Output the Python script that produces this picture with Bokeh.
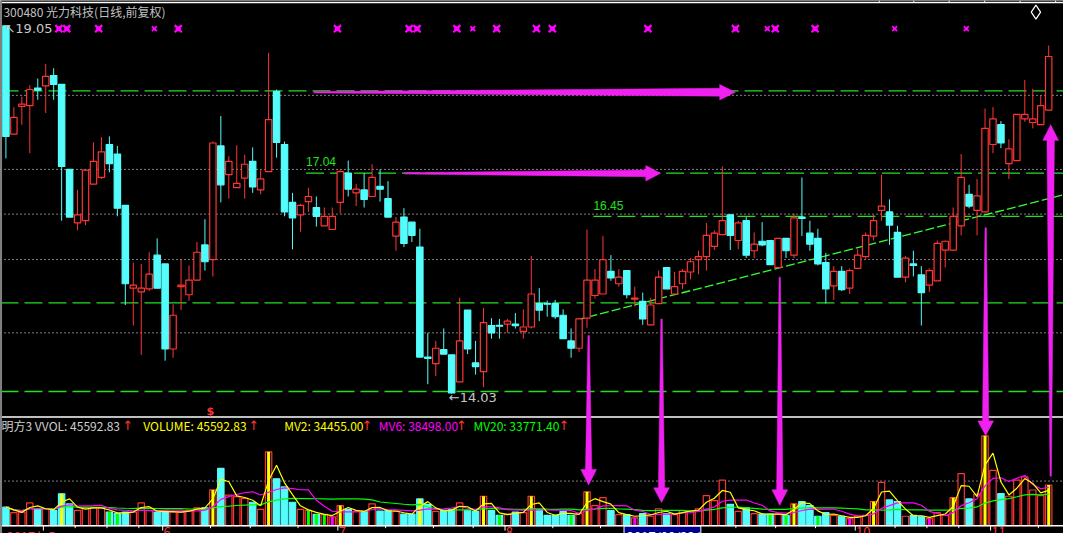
import pandas as pd
from bokeh.plotting import figure
from bokeh.models import ColumnDataSource, Range1d, Label
from bokeh.core.properties import value
from bokeh.embed import file_html
from bokeh.resources import INLINE

# ---------------- data ----------------
open_ = [19.05, 17.57, 17.95, 17.96, 18.20, 18.23, 18.37, 18.25, 17.09, 16.36,
         16.39, 16.89, 16.98, 17.43, 17.30, 16.60, 15.47, 15.42, 15.46, 15.92,
         15.80, 14.64, 15.49, 15.38, 15.58, 16.06, 15.86, 17.41, 17.02, 16.84,
         16.97, 17.20, 16.81, 17.06, 18.15, 17.43, 16.64, 16.47, 16.65, 16.57,
         16.32, 16.27, 16.64, 17.04, 16.77, 16.81, 16.72, 16.86, 16.69, 16.18,
         16.44, 16.37, 16.03, 14.53, 14.44, 14.63, 14.56, 14.19, 15.17, 14.45,
         14.33, 14.96, 14.96, 14.98, 14.98, 14.88, 14.94, 15.26, 15.26, 15.26,
         15.10, 14.75, 14.65, 15.06, 15.37, 15.39, 15.70, 15.53, 15.71, 15.32,
         15.29, 14.97, 15.26, 15.75, 15.39, 15.53, 15.69, 15.86, 15.90, 16.04,
         16.20, 16.47, 16.12, 16.39, 15.98, 16.11, 16.12, 15.75, 16.15, 15.92,
         16.44, 16.22, 16.15, 15.82, 15.50, 15.70, 15.47, 15.74, 15.90, 16.18,
         16.53, 16.51, 16.23, 15.62, 15.80, 15.65, 15.51, 15.57, 15.99, 15.99,
         16.32, 16.75, 16.53, 16.51, 17.43, 17.70, 17.17, 17.21, 17.78, 17.73,
         17.70, 17.90]
high_ = [19.05, 17.94, 18.08, 18.24, 18.33, 18.53, 18.47, 18.25, 17.09, 16.81,
         17.08, 17.46, 17.53, 17.54, 17.41, 16.60, 15.82, 15.80, 15.96, 16.15,
         15.80, 15.25, 15.86, 15.78, 16.10, 16.41, 17.47, 17.82, 17.27, 17.42,
         17.29, 17.39, 17.08, 18.68, 18.18, 17.47, 16.77, 16.62, 16.84, 16.72,
         16.57, 16.57, 17.08, 17.21, 16.89, 17.04, 17.16, 17.09, 16.93, 16.44,
         16.56, 16.37, 16.28, 14.86, 14.75, 14.92, 14.56, 15.34, 15.17, 14.75,
         15.20, 15.06, 15.05, 15.05, 15.13, 15.18, 15.91, 15.47, 15.30, 15.31,
         15.18, 14.92, 15.05, 16.27, 15.73, 16.18, 15.92, 15.73, 15.71, 15.49,
         15.41, 15.34, 15.71, 15.75, 15.69, 15.73, 15.88, 15.98, 16.36, 16.26,
         17.13, 16.48, 16.39, 16.44, 16.23, 16.37, 16.12, 16.15, 16.15, 16.49,
         16.98, 16.39, 16.28, 15.95, 15.77, 15.77, 15.74, 16.00, 16.23, 16.47,
         17.02, 16.68, 16.32, 15.91, 15.98, 15.77, 15.74, 16.12, 16.12, 16.57,
         17.30, 16.88, 16.96, 17.92, 17.94, 17.75, 17.50, 17.84, 18.31, 18.19,
         18.10, 18.78]
low_ = [17.24, 17.57, 17.70, 17.31, 18.04, 17.86, 18.04, 16.39, 16.44, 16.26,
        16.33, 16.89, 16.96, 17.05, 16.45, 15.24, 14.96, 14.56, 15.43, 15.47,
        14.48, 14.52, 15.17, 15.30, 15.58, 15.71, 15.63, 16.64, 16.69, 16.84,
        16.69, 16.77, 16.75, 17.06, 17.25, 16.45, 16.00, 16.24, 16.51, 16.31,
        16.32, 16.27, 16.49, 16.72, 16.59, 16.57, 16.72, 16.65, 16.44, 15.98,
        16.03, 16.10, 14.53, 14.16, 14.27, 14.57, 14.03, 14.19, 14.57, 14.29,
        14.12, 14.78, 14.78, 14.86, 14.92, 14.78, 14.92, 15.02, 15.08, 15.05,
        14.78, 14.52, 14.60, 14.93, 15.33, 15.39, 15.57, 15.49, 15.33, 15.22,
        14.97, 14.97, 15.26, 15.46, 15.39, 15.46, 15.59, 15.66, 15.71, 15.99,
        16.20, 15.99, 16.00, 15.88, 15.88, 16.04, 15.79, 15.75, 15.88, 15.88,
        16.18, 15.98, 15.78, 15.26, 15.31, 15.43, 15.39, 15.74, 15.87, 16.12,
        16.39, 16.06, 15.62, 15.55, 15.63, 14.96, 15.42, 15.57, 15.75, 15.99,
        16.19, 16.56, 16.19, 16.51, 17.31, 17.38, 16.96, 17.21, 17.74, 17.65,
        17.70, 17.90]
close_ = [17.54, 17.80, 17.98, 18.18, 18.17, 18.36, 18.25, 17.13, 16.44, 16.47,
          17.08, 17.20, 17.33, 17.17, 16.56, 15.53, 15.51, 15.47, 15.66, 15.47,
          14.64, 15.10, 15.51, 15.58, 15.96, 15.83, 17.45, 16.88, 17.20, 16.90,
          17.16, 16.85, 16.96, 17.77, 17.46, 16.51, 16.43, 16.60, 16.72, 16.45,
          16.45, 16.45, 17.06, 16.82, 16.82, 16.68, 16.98, 16.82, 16.44, 16.37,
          16.08, 16.19, 14.53, 14.51, 14.65, 14.57, 14.04, 14.75, 14.64, 14.40,
          15.00, 14.86, 14.95, 15.02, 14.96, 14.94, 15.39, 15.17, 15.25, 15.08,
          14.78, 14.65, 15.05, 15.58, 15.58, 15.86, 15.61, 15.62, 15.38, 15.33,
          15.05, 15.24, 15.62, 15.46, 15.49, 15.70, 15.83, 15.90, 16.19, 16.22,
          16.39, 16.19, 16.36, 15.92, 16.07, 16.06, 15.79, 16.15, 15.98, 16.43,
          16.42, 16.07, 15.80, 15.46, 15.70, 15.45, 15.71, 15.92, 16.19, 16.39,
          16.59, 16.33, 15.62, 15.88, 15.78, 15.41, 15.71, 16.08, 16.11, 16.45,
          16.98, 16.59, 16.73, 17.65, 17.78, 17.45, 17.37, 17.84, 17.84, 17.78,
          17.96, 18.63]
volume_ = [20800, 14600, 15300, 25500, 19000, 19000, 17200, 35800, 24400, 17200,
           20000, 20000, 20000, 15300, 13500, 15300, 15300, 25500, 17200, 15300,
           16400, 15300, 15300, 17200, 20000, 20000, 40100, 64200, 34300, 32500,
           30700, 26300, 18300, 82800, 52600, 43400, 26300, 18300, 17200, 12800,
           12800, 9900, 22600, 18300, 16000, 16000, 24500, 16400, 17000, 16000,
           13000, 13000, 30000, 24000, 16000, 17000, 18000, 25500, 17000, 16000,
           33000, 17000, 11700, 13000, 15300, 14600, 33000, 18000, 11700, 11700,
           16000, 11700, 13500, 38000, 22600, 31400, 17000, 12400, 12400, 8800,
           13500, 10600, 19000, 13500, 12400, 17000, 16000, 19000, 33600, 28000,
           51000, 24000, 16000, 20000, 13500, 13000, 13000, 13000, 11700, 24500,
           27000, 22600, 10600, 14600, 11700, 10600, 8000, 10600, 11700, 27000,
           48500, 29000, 27000, 10600, 11700, 10600, 8000, 14600, 11700, 31400,
           58400, 30000, 35400, 100700, 62000, 36000, 33000, 51000, 54700, 40000,
           33600, 45600]
yellow_bars = [7, 26, 33, 42, 52, 60, 66, 73, 99, 109, 119, 123, 131]
green_bars = [13, 14, 38, 39, 40, 62, 71, 96, 98, 102]
magenta_bars = [41, 79, 106, 116]
signal_big = [7, 8, 12, 22, 42, 51, 52, 57, 62, 67, 69, 81, 92, 97, 102]
signal_small = [19, 59, 96, 112, 121]
month_starts = [5, 20, 42, 63, 86, 107, 124]
month_labels = ["2017年5", "6", "7", "8", "9", "10", "11"]
week_ticks = [9, 13, 17, 26, 31, 37, 48, 54, 59, 69, 75, 80, 92, 97, 102, 112, 116, 120, 130]
cursor_index = 78
cursor_label = "2017/08/22/二"
green_levels = [18.16, 15.27, 14.06]
green_marked = [(17.04, 37.7), (16.45, 73.8)]   # (price, first candle index)
dotted_levels = [18.10, 17.09, 16.48, 15.86, 14.86]
vol_dotted = 50000
high_label, low_label = "19.05", "14.03"
header = [("明方3 VVOL: 45592.83", "#d0d0d0"), ("VOLUME: 45592.83", "#ffff00"),
          ("MV2: 34455.00", "#ffff00"), ("MV6: 38498.00", "#ff00ff"),
          ("MV20: 33771.40", "#00ff00")]

# ---------------- helpers: reference pixel -> data ----------------
def XI(rx):
    return (rx - 5.5) / 8.08

def PY(ry):
    return 14.03 + (405 - ry) / 75.5

def VY(ry):
    return (541 - ry) * 1087.0

RED = "#ff3434"
CYAN = "#54fcfc"
GREEN = "#22e022"
MAG = "#f020f0"

N = len(close_)
df = pd.DataFrame(dict(x=list(range(N)), o=open_, h=high_, l=low_, c=close_, v=volume_))
df["up"] = df.c >= df.o
df["top"] = df[["o", "c"]].max(axis=1)
df["bot"] = df[["o", "c"]].min(axis=1)
df.loc[df.top - df.bot < 0.013, "top"] = df.bot + 0.013
df["col"] = [RED if u else CYAN for u in df.up]
df["fill"] = ["black" if u else CYAN for u in df.up]
df["mv2"] = df.v.rolling(2, min_periods=1).mean()
df["mv6"] = df.v.rolling(6, min_periods=1).mean()
df["mv20"] = df.v.rolling(20, min_periods=1).mean()
src = ColumnDataSource(df)

p = figure(width=1063, height=533, output_backend="svg", toolbar_location=None,
           x_range=Range1d(XI(0), XI(1079)), y_range=Range1d(PY(549), PY(0)),
           x_axis_type=None, y_axis_type=None, min_border=0,
           background_fill_color="black", border_fill_color="black",
           outline_line_color=None)
p.extra_y_ranges = {"vol": Range1d(VY(549), VY(0))}
p.grid.visible = False

x0, x1 = XI(0), XI(1079)

# horizontal reference lines
for lv in dotted_levels:
    p.segment(x0=x0, x1=x1, y0=lv, y1=lv, line_color="white", line_dash="1 3", line_width=1)
for lv in green_levels:
    p.segment(x0=x0, x1=x1, y0=lv, y1=lv, line_color=GREEN, line_dash="18 6", line_width=1.3)
for lv, xs in green_marked:
    p.segment(x0=xs, x1=x1, y0=lv, y1=lv, line_color=GREEN, line_dash="18 6", line_width=1.3)
    p.add_layout(Label(x=xs, y=lv + 0.09, text=f"{lv:.2f}", text_color=GREEN,
                       text_font="Liberation Sans", text_font_size="12px",
                       text_baseline="bottom"))
p.segment(x0=x0, x1=x1, y0=vol_dotted, y1=vol_dotted, y_range_name="vol",
          line_color="white", line_dash="1 3")

# trend line
p.segment(x0=XI(585), x1=XI(1079), y0=PY(329), y1=PY(200), line_color="#33ff33",
          line_dash="9 3", line_width=1.3)

# candles
p.segment(x0="x", x1="x", y0="l", y1="h", color="col", line_width=1, source=src)
p.vbar(x="x", width=0.8, top="top", bottom="bot", fill_color="fill",
       line_color="col", line_width=1.2, source=src)

# volume bars
p.vbar(x="x", width=0.8, top="v", bottom=0, fill_color="fill", line_color="col",
       line_width=1.2, source=src, y_range_name="vol")
for lst, colr in ((yellow_bars, "#ffff00"), (green_bars, "#00ff00"), (magenta_bars, "#ff00ff")):
    sub = df.loc[lst]
    p.vbar(x=sub.x, width=0.38, top=sub.v, bottom=0, fill_color=colr, line_color=None,
           y_range_name="vol")
p.line("x", "mv20", source=src, color="#00ff00", line_width=1.2, y_range_name="vol")
p.line("x", "mv6", source=src, color="#ff00ff", line_width=1.2, y_range_name="vol")
p.line("x", "mv2", source=src, color="#ffff00", line_width=1.2, y_range_name="vol")

# frame lines
p.segment(x0=x0, x1=x1, y0=PY(2), y1=PY(2), line_color="white", line_width=1.5)
p.segment(x0=x0, x1=x1, y0=PY(429), y1=PY(429), line_color="white", line_width=1.5)
p.segment(x0=x0, x1=x1, y0=0, y1=0, y_range_name="vol", line_color="white", line_width=1.5)
p.segment(x0=XI(0.8), x1=XI(0.8), y0=PY(549), y1=PY(0), line_color="#808080", line_width=1.5)
for tx in (892, 927, 963, 999, 1035, 1071):
    p.segment(x0=XI(tx), x1=XI(tx), y0=PY(0), y1=PY(2), line_color="white")

# bottom ticks and labels
ms = [m - 0.3 for m in month_starts]
p.segment(x0=ms, x1=ms, y0=[0] * len(ms), y1=[VY(546)] * len(ms), y_range_name="vol",
          line_color="white")
wt = [w - 0.3 for w in week_ticks]
p.segment(x0=wt, x1=wt, y0=[0] * len(wt), y1=[VY(543.5)] * len(wt), y_range_name="vol",
          line_color="white")
lab_x = [XI(6)] + [m + 0.1 for m in ms[1:]]
p.text(x=lab_x, y=[VY(542.5)] * len(lab_x), text=month_labels, y_range_name="vol",
       text_color=RED, text_font=value("Noto Sans CJK SC"), text_font_size="13px",
       text_baseline="top")
p.quad(left=cursor_index - 0.35, right=cursor_index + 9.3, top=VY(541.5), bottom=VY(560),
       y_range_name="vol", fill_color="#000090", line_color="white")
p.text(x=[cursor_index], y=[VY(542.5)], text=[cursor_label], y_range_name="vol",
       text_color="white", text_font=value("Noto Sans CJK SC"), text_font_size="13px",
       text_baseline="top")

# signal icons on top row
for lst, sz, lw in ((signal_big, 10, 2.2), (signal_small, 7, 1.6)):
    xs = [s - 0.35 for s in lst]
    p.scatter(x=xs, y=[PY(29)] * len(xs), marker="x", size=sz, line_color="#ff00ff",
              line_width=lw)
    p.scatter(x=xs, y=[PY(29)] * len(xs), marker="square", size=sz * 0.5,
              fill_color="#ff00ff", line_color=None)

# hand-drawn magenta arrows
def h_arrow(xt, xb, xp, y, wt_, wb, hh):
    ky = 1 / 75.5
    return ([xt, xb, xb, xp, xb, xb, xt],
            [y - wt_ * ky, y - wb * ky, y - hh * ky, y, y + hh * ky, y + wb * ky, y + wt_ * ky])

def v_arrow(x, yt, yb, yp, wt_, wb, hh):
    kx = 1 / 8.08
    return ([x - wt_ * kx, x - wb * kx, x - hh * kx, x, x + hh * kx, x + wb * kx, x + wt_ * kx],
            [yt, yb, yb, yp, yb, yb, yt])

arrows = [
    h_arrow(XI(318), XI(730), XI(746), PY(94.5), 0.7, 4.0, 8),
    h_arrow(XI(410), XI(655), XI(670), PY(178), 0.7, 3.5, 8),
    v_arrow(XI(597), PY(345), PY(483), PY(499), 0.7, 3.2, 8),
    v_arrow(XI(671), PY(328), PY(502), PY(517), 0.7, 3.2, 8),
    v_arrow(XI(791), PY(285), PY(504), PY(520), 0.7, 3.2, 8),
    v_arrow(XI(1000), PY(234), PY(433), PY(448), 0.7, 3.2, 8),
    v_arrow(XI(1066), PY(490), PY(144), PY(128), 0.7, 3.8, 8),
]
p.patches(xs=[a[0] for a in arrows], ys=[a[1] for a in arrows], fill_color=MAG,
          line_color=MAG, line_width=0.5)

# texts
def lab(x, y, text, color, size="12px", font="Liberation Sans", align="left", style="normal",
        alpha=1.0):
    p.add_layout(Label(x=x, y=y, text=text, text_color=color, text_font=font,
                       text_font_size=size, text_align=align, text_baseline="middle",
                       text_font_style=style, text_alpha=alpha))

lab(XI(3), PY(11), "300480 光力科技(日线,前复权)", "#c0c0c0", "12px", "Noto Sans CJK SC")
lab(XI(4), PY(29), "↖" + high_label, "#c8c8c8", "13px", "DejaVu Sans")
lab(XI(455), PY(409), "←" + low_label, "#c8c8c8", "13px", "DejaVu Sans")
lab(XI(213), PY(423), "$", RED, "11px", "DejaVu Sans", "center", "bold")

hx = [1, 145, 288, 384, 480]
ax = [129, 257, 372, 468, 572]
for (t, c), xx, aa in zip(header, hx, ax):
    lab(XI(xx), PY(438), t, c, "12px", "Noto Sans CJK SC")
    lab(XI(aa), PY(438), "↑", RED, "13px", "DejaVu Sans", "center")

p.scatter(x=[XI(1051)], y=[PY(12)], marker="diamond", size=14, fill_color=None,
          line_color="white", line_width=1.2)
lab(XI(966), VY(518), "178448.COM", "#bdbdbd", "22px", "Liberation Sans Narrow", "left",
    "bold", 0.55)

open("out.html", "w").write(file_html(p, INLINE))
